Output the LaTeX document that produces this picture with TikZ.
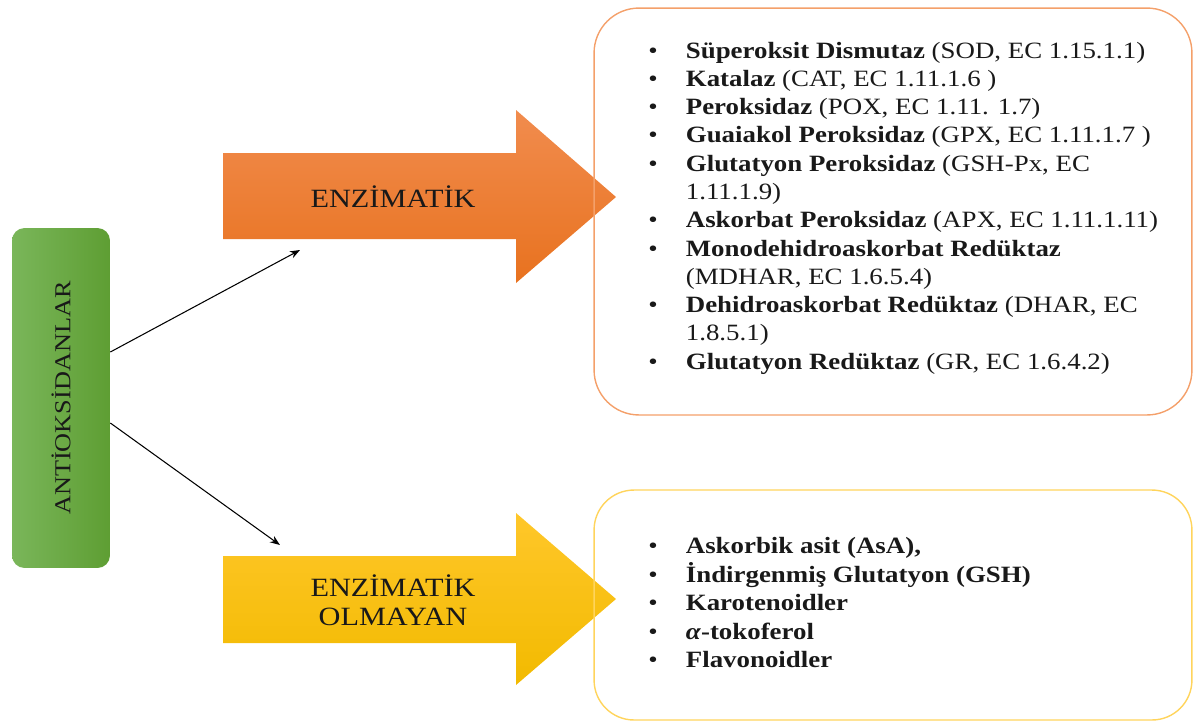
\documentclass[tikz,border=0pt]{standalone}
\usepackage{fontspec}
\setmainfont[FakeStretch=1.15]{Liberation Serif}
\usetikzlibrary{arrows.meta}

\definecolor{yesilA}{HTML}{7AB65A}
\definecolor{yesilB}{HTML}{5E9E33}
\definecolor{turuncuA}{HTML}{F18C4E}
\definecolor{turuncuB}{HTML}{E8721F}
\definecolor{turuncuK}{HTML}{F4A06A}
\definecolor{sariA}{HTML}{FFC72A}
\definecolor{sariB}{HTML}{F2BA00}
\definecolor{sariK}{HTML}{FFD45C}

\tikzset{
  kutu/.style={draw, rounded corners=0.9cm, line width=0.8pt, minimum width=11.96cm},
  etiket/.style={font=\fontsize{15}{16.5}\selectfont, text=black!90, align=center, inner sep=0pt},
  liste/.style={font=\fontsize{13.3}{16.1}\selectfont, text=black!90, align=left, anchor=west, inner sep=0pt},
}

\begin{document}
\begin{tikzpicture}[x=0.02cm, y=-0.02cm, >=Stealth]
  \useasboundingbox (0,0) rectangle (1194,725);

  % Ana kutu
  \node[rounded corners=0.25cm, left color=yesilA, right color=yesilB, minimum width=1.96cm, minimum height=6.8cm] (ant) at (61,398) {};
  \node[etiket, rotate=90, font=\fontsize{13}{15}\selectfont] (antyazi) at (ant.center) {ANTİOKSİDANLAR};

  % Büyük oklar
  \shade[top color=turuncuA, bottom color=turuncuB] (223,153) -- (516,153) -- (516,110) -- (616,197) -- (516,283) -- (516,239) -- (223,239) -- cycle;
  \node[etiket] (enz) at (393,197) {ENZİMATİK};
  \shade[top color=sariA, bottom color=sariB] (223,556) -- (516,556) -- (516,513) -- (616,599) -- (516,685) -- (516,643) -- (223,643) -- cycle;
  \node[etiket] (enzdegil) at (393,600) {ENZİMATİK\\OLMAYAN};

  % Liste kutuları
  \node[kutu, draw=turuncuK, minimum height=8.14cm] (enzkutu) at (893,211.5) {};
  \node[kutu, draw=sariK, rounded corners=0.8cm, minimum height=4.6cm] (degilkutu) at (893,605) {};

  % Enzimatik antioksidanlar
  \node[liste] (enzliste) at (648,208) {\begin{tabular}{@{}l@{\hspace{16pt}}l@{}}
    \textbullet & \textbf{Süperoksit Dismutaz} (SOD, EC 1.15.1.1)\\
    \textbullet & \textbf{Katalaz} (CAT, EC 1.11.1.6 )\\
    \textbullet & \textbf{Peroksidaz} (POX, EC 1.11. 1.7)\\
    \textbullet & \textbf{Guaiakol Peroksidaz} (GPX, EC 1.11.1.7 )\\
    \textbullet & \textbf{Glutatyon Peroksidaz} (GSH-Px, EC\\
                & 1.11.1.9)\\
    \textbullet & \textbf{Askorbat Peroksidaz} (APX, EC 1.11.1.11)\\
    \textbullet & \textbf{Monodehidroaskorbat Redüktaz}\\
                & (MDHAR, EC 1.6.5.4)\\
    \textbullet & \textbf{Dehidroaskorbat Redüktaz} (DHAR, EC\\
                & 1.8.5.1)\\
    \textbullet & \textbf{Glutatyon Redüktaz} (GR, EC 1.6.4.2)
  \end{tabular}};

  % Enzimatik olmayan antioksidanlar
  \node[liste] (degilliste) at (648,605) {\begin{tabular}{@{}l@{\hspace{16pt}}l@{}}
    \textbullet & \textbf{Askorbik asit (AsA),}\\
    \textbullet & \textbf{İndirgenmiş Glutatyon (GSH)}\\
    \textbullet & \textbf{Karotenoidler}\\
    \textbullet & \textbf{\textit{α}-tokoferol}\\
    \textbullet & \textbf{Flavonoidler}
  \end{tabular}};

  % Oklar
  \coordinate (ustuc) at (300,250);
  \coordinate (altuc) at (280,545);
  \draw[->, line width=0.6pt] (ant.east |- 0,352) -- (ustuc);
  \draw[->, line width=0.6pt] (ant.east |- 0,423) -- (altuc);
\end{tikzpicture}
\end{document}
